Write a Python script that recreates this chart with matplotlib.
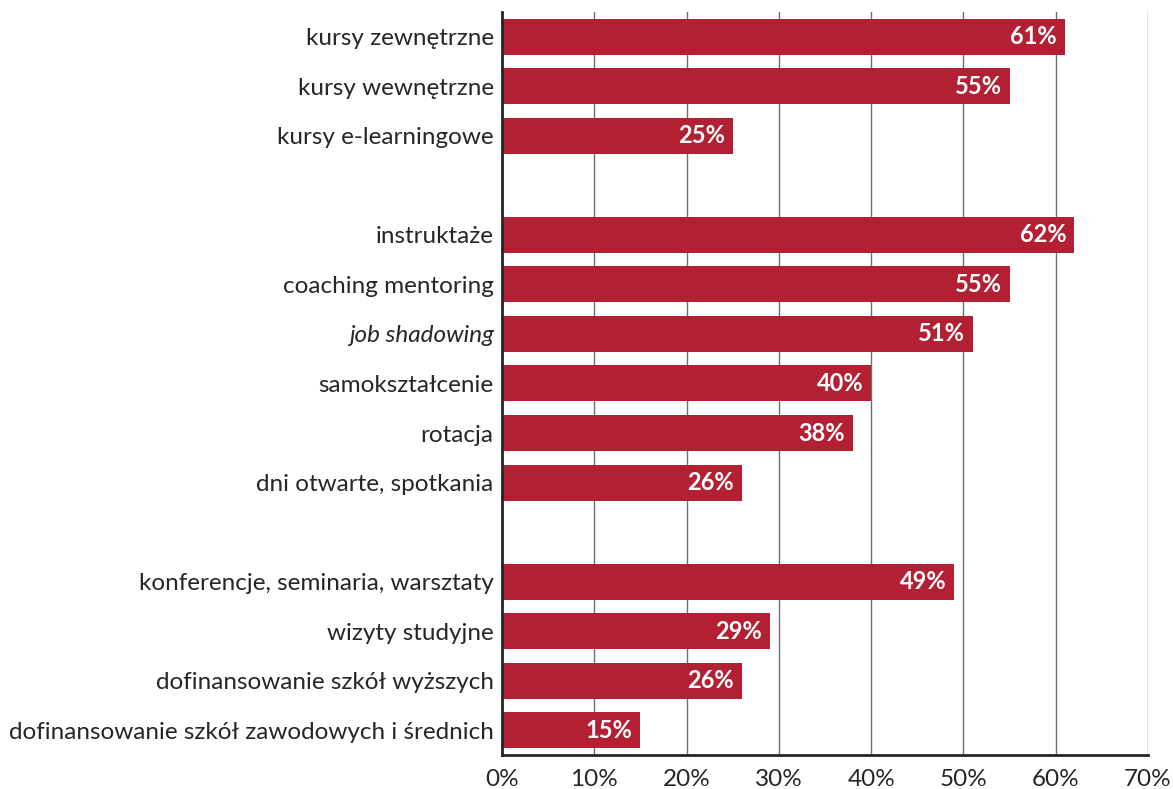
import matplotlib
matplotlib.use("Agg")
import matplotlib.pyplot as plt
from matplotlib.ticker import FuncFormatter

# Categories from top to bottom; None marks an empty separator row
categories = [
    "kursy zewnętrzne",
    "kursy wewnętrzne",
    "kursy e-learningowe",
    None,
    "instruktaże",
    "coaching mentoring",
    "job shadowing",
    "samokształcenie",
    "rotacja",
    "dni otwarte, spotkania",
    None,
    "konferencje, seminaria, warsztaty",
    "wizyty studyjne",
    "dofinansowanie szkół wyższych",
    "dofinansowanie szkół zawodowych i średnich",
]
values = [61, 55, 25, None, 62, 55, 51, 40, 38, 26, None, 49, 29, 26, 15]
italic_labels = ["job shadowing"]
x_ticks = [0, 10, 20, 30, 40, 50, 60, 70]

plt.rcParams["font.family"] = ["Lato", "DejaVu Sans"]

bar_color = "#B31F33"
text_color = "#262626"

fig = plt.figure(figsize=(11.73, 7.89), dpi=100)
ax = fig.add_axes([0.428, 0.0431, 0.9787 - 0.428, 0.9848 - 0.0431])

n = len(categories)
positions = list(range(n))
for pos, cat, val in zip(positions, categories, values):
    if val is None:
        continue
    ax.barh(pos, val, height=0.727, color=bar_color, zorder=3)
    ax.text(val - 0.85, pos, f"{val}%", ha="right", va="center",
            color="white", fontsize=17, fontweight="bold", zorder=4)

ax.set_ylim(n - 0.5, -0.5)
ax.set_xlim(0, 70)
ax.set_yticks([p for p, c in zip(positions, categories) if c is not None])
ax.set_yticklabels([c for c in categories if c is not None])
for lbl in ax.get_yticklabels():
    if lbl.get_text() in italic_labels:
        lbl.set_fontstyle("italic")

ax.set_xticks(x_ticks)
ax.xaxis.set_major_formatter(FuncFormatter(lambda v, _: f"{v:.0f}%"))
ax.tick_params(axis="both", length=0, labelsize=17.5, colors=text_color)
ax.tick_params(axis="y", pad=6)
ax.tick_params(axis="x", pad=10)

ax.grid(axis="x", color="#6e6e6e", linewidth=1.0, zorder=0)
ax.grid(axis="y", visible=False)

for side in ("top", "right"):
    ax.spines[side].set_visible(False)
ax.spines["left"].set_color("#262626")
ax.spines["left"].set_linewidth(2.0)
ax.spines["left"].set_zorder(5)
ax.spines["bottom"].set_color("#262626")
ax.spines["bottom"].set_linewidth(2.0)

fig.savefig("out.png", dpi=100, facecolor="white")
